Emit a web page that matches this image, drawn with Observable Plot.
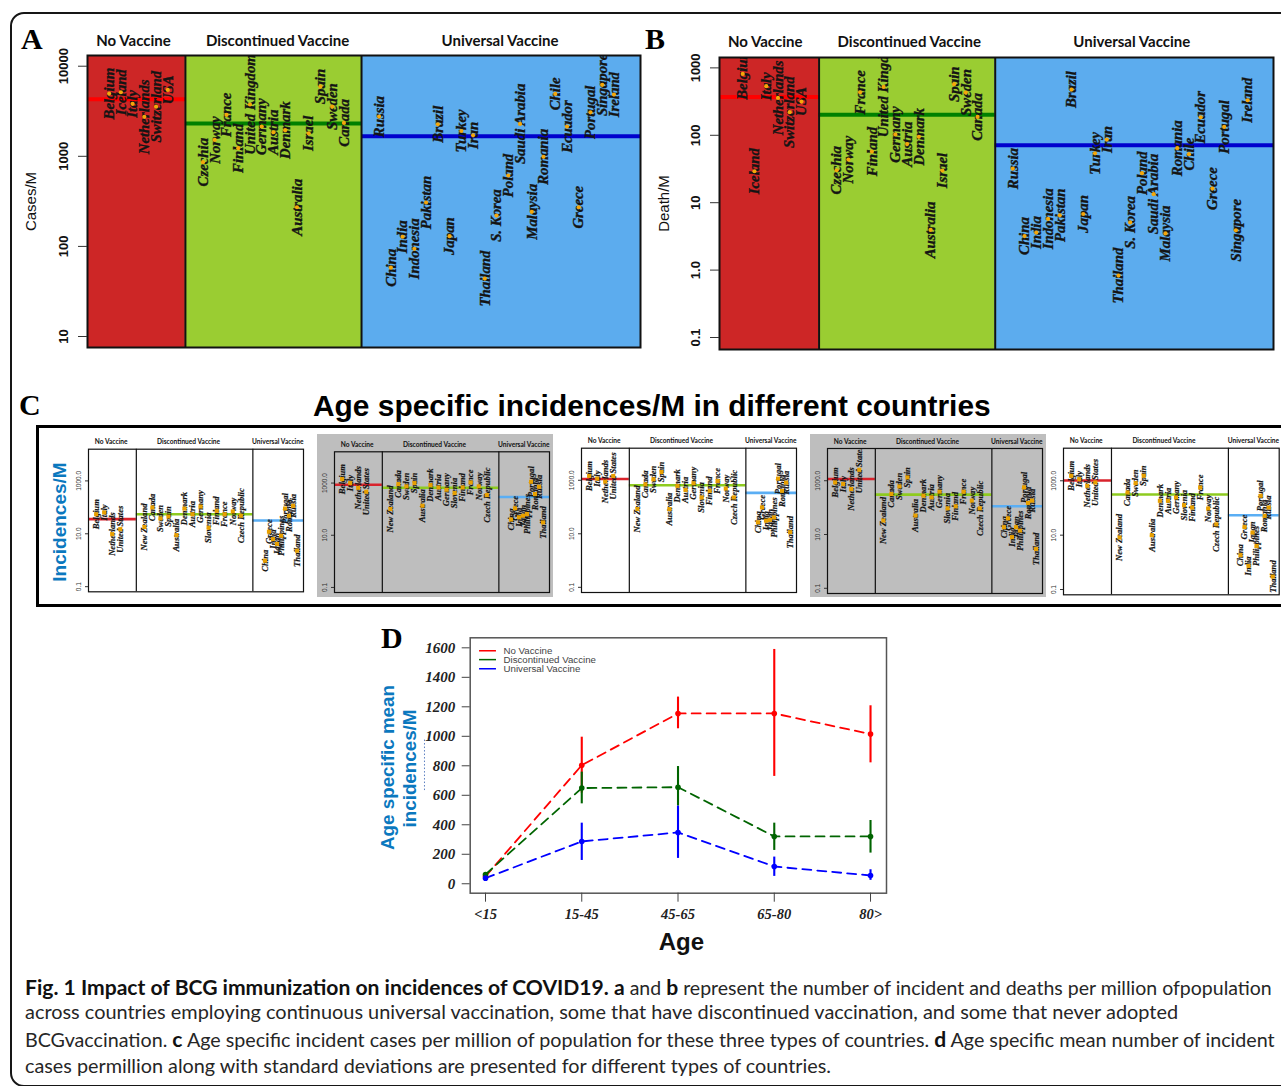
<!DOCTYPE html>
<html><head><meta charset="utf-8">
<script src="https://cdn.jsdelivr.net/npm/d3@7"></script>
<script src="https://cdn.jsdelivr.net/npm/@observablehq/plot@0.6"></script>
<style>
html,body{margin:0;padding:0;background:#fff}
#page{position:relative;width:1281px;height:1086px;overflow:hidden;background:#fff}
.card{position:absolute;left:10px;top:12px;width:1400px;height:1071px;border:2.5px solid #161616;border-radius:14px;box-sizing:content-box}
.cbox{position:absolute;left:36px;top:425px;width:1400px;height:176px;border:3.5px solid #000}
.letter{position:absolute;font:bold 30px "Liberation Serif",serif;color:#000;line-height:1}
.title{position:absolute;left:313px;top:388.5px;font:bold 29.9px "Liberation Sans",sans-serif;color:#000;white-space:nowrap;line-height:1.15}
.side{position:absolute;font:bold 19px "Liberation Sans",sans-serif;color:#0b78be;white-space:nowrap;transform:translate(-50%,-50%) rotate(-90deg)}
.cap{position:absolute;left:25px;font:19.8px "Lato",sans-serif;color:#262626;white-space:nowrap;line-height:1}
.cap b{font-weight:700;font-size:21.1px;color:#111}
</style></head><body><div id="page"></div>
<script>
// ---------- Panels A and B ----------
const vaccineGroups = ["No Vaccine", "Discontinued Vaccine", "Universal Vaccine"];
const abCountries = ["Belgium","Iceland","Italy","Netherlands","Switzerland","USA",
  "Czechia","Norway","France","Finland","United Kingdom","Germany","Austria","Denmark","Australia","Israel","Spain","Sweden","Canada",
  "Russia","China","India","Indonesia","Pakistan","Brazil","Japan","Turkey","Iran","Thailand","S. Korea","Poland","Saudi Arabia","Malaysia","Romania","Chile","Ecuador","Greece","Portugal","Singapore","Ireland"];
const abPositions = [1,2,3,4,5,6, 9,10,11,12,13,14,15,16,17,18,19,20,21,
  24,25,26,27,28,29,30,31,32,33,34,35,36,37,38,39,40,41,42,43,44];
const casesPerM = [4970,5140,3820,2740,3560,5460,
  860,1520,2880,1230,3760,2140,1850,1950,272,1800,5950,3560,2350,
  2760,58,128,94,307,2270,130,1910,1710,44,220,612,2290,242,986,4930,2140,272,3080,6210,4840];
const deathsPerM = [815,29.3,535,359,220,316,
  30.3,43.6,435,57.4,522,103,74,95,3.95,30,573,431,187,
  32,3.2,3.6,5.75,6.5,477,6.8,54,86.5,0.83,5.1,27.4,13.4,3.5,64.3,52.5,185,16.2,133,3.9,331];
const casesMeans = [4300, 2310, 1670];
const deathsMeans = [371, 201, 71];
const casesTicks = [10, 100, 1000, 10000];
const deathsTicks = [0.1, 1, 10, 100, 1000];
const deathsTickLabels = ["0.1","1.0","10","100","1000"];
const abBreaks = [7.5, 22.5];
const abTitleX = [3.08, 15.35, 34.3];

// ---------- Panel C ----------
const cCountries = ["Belgium","Italy","Netherlands","United States",
  "New Zealand","Canada","Sweden","Spain","Australia","Denmark","Austria","Germany","Slovenia","Finland","France","Norway","Czech Republic",
  "China","Greece","India","Japan","Philippines","Portugal","Romania","Russia","Thailand"];
const cPositions = [1,2,3,4, 7,8,9,10,11,12,13,14,15,16,17,18,19, 22,22.5,23,23.5,24,24.5,25,25.5,26];
const incidence1 = [55,64,9.7,15, 18,99,38,45,8.9,90,55,107,17,74,55,70,48, 0.96,12,6.3,4.1,8.4,90,48,114,2.3];
const incidence2 = [1420,1000,660,466, 101,915,748,1000,136,838,682,556,415,682,1060,748,347, 40,108,49,56,65,1125,380,724,31];
const incidence3 = [1447,1152,892,1447, 84,708,1089,2033,84,617,437,774,228,403,945,489,228, 27,97,31,33,41,1152,403,820,11.5];
const incidence4 = [867,753,491,2551, 33,321,615,1329,51,278,242,392,94,112,392,182,94, 18.7,40,8,18.7,14,566,149,182,2.9];
const incidence5 = [1528,1152,655,868, 8.2,372,820,1528,10,184,184,244,127,104,569,96,25, 1.84,20,0.74,12.5,4,280,51,104,0.3];
const means1 = [36, 55, 32];
const means2 = [863, 664, 292];
const means3 = [1120, 653, 339];
const means4 = [1153, 303, 112];
const means5 = [1029, 314, 54];
const cTicks = [0.1, 10, 1000];
const cTickLabels = ["0.1","10.0","1000.0"];
const cBreaks = [6, 20.5];
const cTitleX = [2.87, 12.5, 23.6];

// ---------- Panel D ----------
const ages = ["<15","15-45","45-65","65-80","80>"];
const meanNo = [50, 804, 1155, 1155, 1015];
const lowNo = [40, 615, 1051, 728, 820];
const highNo = [60, 994, 1266, 1589, 1207];
const meanDisc = [63, 649, 655, 321, 321];
const lowDisc = [53, 542, 527, 226, 208];
const highDisc = [73, 757, 795, 411, 429];
const meanUniv = [38, 287, 348, 117, 56];
const lowUniv = [28, 158, 172, 50, 23];
const highUniv = [48, 411, 527, 181, 95];
const dTicks = [0,200,400,600,800,1000,1200,1400,1600];

// ---------- colours ----------
const fills = ["#cd2626","#9acd32","#5cacee"];
const abLines = ["#ff0000","#008000","#0000cd"];
const cLines = ["#d9232c","#8ecb1f","#5aaef4"];
const dLines = ["#ff0000","#006400","#0000ff"];
const dotColor = "#f5a70a";

const page = document.getElementById("page");
function div(cls, html, style){const d=document.createElement("div");d.className=cls;d.innerHTML=html;if(style)d.style.cssText=style;page.appendChild(d);return d;}
function place(svg,left,top,bg){svg.style.position="absolute";svg.style.left=left+"px";svg.style.top=top+"px";svg.style.background=bg||"transparent";svg.style.maxWidth="none";page.appendChild(svg);}

div("card","");div("cbox","");

const SERIF = "Liberation Serif", SANS = "Liberation Sans", HEAD = "Lato";

function rankedPanel(o){
  const rows = o.names.map((name,i)=>({name,x:o.xs[i],v:o.values[i]}));
  const [xLo,xHi] = o.xDomain;
  const edges = [xLo,...o.breaks,xHi];
  const groups = vaccineGroups.map((g,i)=>({g,x1:edges[i],x2:edges[i+1],tx:o.titleX[i],mean:o.means[i],fill:(o.fills||[])[i]||"none",line:o.lines[i]}));
  const marks = [];
  if(o.fills) marks.push(Plot.rect(groups,{x1:"x1",x2:"x2",fill:"fill"}));
  marks.push(Plot.ruleY(groups,{y:"mean",x1:"x1",x2:"x2",stroke:"line",strokeWidth:o.lineWidth}));
  marks.push(Plot.text(rows,{x:"x",y:"v",text:"name",rotate:-90,fill:"#141414",stroke:"#141414",strokeWidth:o.labelStroke,fontFamily:SERIF,fontWeight:"bold",fontStyle:"italic",fontSize:o.labelSize,clip:true}));
  marks.push(Plot.dot(rows,{x:"x",y:"v",fill:o.dotFill||dotColor,r:o.dotR,symbol:o.dotSymbol}));
  marks.push(Plot.ruleX(o.breaks,{stroke:"#111",strokeWidth:o.frameWidth}));
  marks.push(Plot.frame({stroke:"#111",strokeWidth:o.frameWidth}));
  marks.push(Plot.text(groups,{x:"tx",text:"g",frameAnchor:"top",lineAnchor:"middle",textAnchor:"middle",dx:o.titleDx||0,dy:o.titleDy,fill:"#111",fontFamily:HEAD,fontWeight:"bold",fontSize:o.titleSize}));
  marks.push(Plot.axisY({ticks:o.ticks,tickFormat:o.tickFormat,tickRotate:-90,tickSize:o.tickSize,tickPadding:o.tickPadding,label:null,fontSize:o.tickFont,fontWeight:o.tickWeight,fontFamily:SANS,fill:o.tickFill||"#111",stroke:"#333"}));
  if(o.yLabel) marks.push(Plot.text([o.yLabel],{frameAnchor:"left",textAnchor:"middle",lineAnchor:"middle",rotate:-90,dx:o.yLabelDx,fontFamily:SANS,fontSize:15,fill:"#111"}));
  const svg = Plot.plot({width:o.width,height:o.height,marginLeft:o.ml,marginRight:o.mr,marginTop:o.mt,marginBottom:o.mb,
    x:{type:"linear",domain:o.xDomain,axis:null},y:{type:"log",domain:o.yDomain,axis:null},marks});
  place(svg,o.left,o.top,o.bg);
}

const abShared = {names:abCountries,xs:abPositions,breaks:abBreaks,titleX:abTitleX,fills,lines:abLines,lineWidth:4,dotR:2.1,labelSize:14.8,labelStroke:0.35,frameWidth:2,titleDy:-14,titleSize:15,tickSize:9,tickPadding:11,tickFont:13,tickWeight:"bold"};
rankedPanel({...abShared,values:casesPerM,means:casesMeans,xDomain:[-0.84,46.26],yDomain:[7.55,13150],ticks:casesTicks,tickFormat:d=>String(d),
  yLabel:"Cases/M",yLabelDx:-56,left:20,top:28,width:625,height:322,ml:67,mr:5,mt:27,mb:3});
rankedPanel({...abShared,values:deathsPerM,means:deathsMeans,xDomain:[-0.98,46.2],yDomain:[0.0664,1426],ticks:deathsTicks,tickFormat:d=>deathsTickLabels[deathsTicks.indexOf(d)],
  yLabel:"Death/M",yLabelDx:-55,left:650,top:28,width:631,height:324,ml:69,mr:8,mt:29,mb:3,titleDy:-15,titleDx:-2});

const cShared = {names:cCountries,xs:cPositions,breaks:cBreaks,titleX:cTitleX,lines:cLines,lineWidth:2.6,dotR:2.3,dotFill:"#e8a000",dotSymbol:"square",labelSize:8.6,labelStroke:0.2,frameWidth:1.2,titleDy:-7,titleSize:6.6,
  xDomain:[0.05,26.8],yDomain:[0.064,15800],ticks:cTicks,tickFormat:d=>cTickLabels[cTicks.indexOf(d)],tickSize:3,tickPadding:5,tickFont:6.5,tickFill:"#333",width:236};
rankedPanel({...cShared,values:incidence1,means:means1,left:71.3,top:433,height:163,ml:17,mr:4,mt:15.7,mb:4.7});
rankedPanel({...cShared,values:incidence2,means:means2,left:317.3,top:434,height:163,ml:17,mr:4,mt:17.3,mb:5,bg:"#bebebe"});
rankedPanel({...cShared,values:incidence3,means:means3,left:563.7,top:433,height:164,ml:17,mr:4,mt:14.7,mb:5});
rankedPanel({...cShared,values:incidence4,means:means4,left:810,top:434,height:163,ml:17,mr:4,mt:14,mb:4,bg:"#bebebe"});
rankedPanel({...cShared,values:incidence5,means:means5,left:1045.7,top:433,height:165,ml:17,mr:3.3,mt:14.7,mb:3.7});

div("letter","A","left:21px;top:24px");
div("letter","B","left:645px;top:24px");
div("letter","C","left:19px;top:390px");
div("letter","D","left:381px;top:623px");
div("title","Age specific incidences/M in different countries");
div("side","Incidences/M","left:60px;top:522px");

// Panel D
const dSeries = [["No Vaccine",meanNo,lowNo,highNo],["Discontinued Vaccine",meanDisc,lowDisc,highDisc],["Universal Vaccine",meanUniv,lowUniv,highUniv]];
const dRows = dSeries.flatMap(([group,m,lo,hi])=>ages.map((a,i)=>({group,i,v:m[i],lo:lo[i],hi:hi[i]})));
const legendY = [1580,1520,1458];
const legendRows = vaccineGroups.map((g,i)=>({g,y:legendY[i]}));
const dSvg = Plot.plot({width:530,height:330,marginLeft:99.7,marginRight:14,marginTop:7.3,marginBottom:67.3,
  x:{type:"linear",domain:[-0.159,4.166],axis:null},y:{domain:[-64,1668],axis:null},
  color:{domain:vaccineGroups,range:dLines},
  marks:[
    Plot.ruleX(dRows,{x:"i",y1:"lo",y2:"hi",stroke:"group",strokeWidth:2.1}),
    Plot.line(dRows,{x:"i",y:"v",z:"group",stroke:"group",strokeWidth:1.8,strokeDasharray:"9,6"}),
    Plot.dot(dRows,{x:"i",y:"v",fill:"group",r:2.8}),
    Plot.ruleY(legendRows,{y:"y",x1:-0.062,x2:0.114,stroke:"g",strokeWidth:1.5}),
    Plot.text(legendRows,{x:0.187,y:"y",text:"g",textAnchor:"start",fontFamily:SANS,fontSize:9.7,fill:"#444"}),
    Plot.ruleX([-0.634],{y1:632,y2:985,stroke:"#5b7fc0",strokeWidth:1,strokeDasharray:"1.5,2"}),
    Plot.frame({stroke:"#555",strokeWidth:1.5}),
    Plot.axisX({ticks:[0,1,2,3,4],tickFormat:d=>ages[d],tickSize:9,tickPadding:7,label:null,fontFamily:SERIF,fontWeight:"bold",fontStyle:"italic",fontSize:14.5,fill:"#222",stroke:"#444"}),
    Plot.axisY({ticks:dTicks,tickSize:8,tickPadding:7,tickFormat:d=>String(d),label:null,fontFamily:SERIF,fontWeight:"bold",fontStyle:"italic",fontSize:15,fill:"#222",stroke:"#444"}),
    Plot.text(["Age"],{frameAnchor:"bottom",textAnchor:"middle",lineAnchor:"middle",dx:3,dy:49,fontFamily:SANS,fontWeight:"bold",fontSize:24,fill:"#111"}),
    Plot.text(["Age specific mean"],{frameAnchor:"left",textAnchor:"middle",lineAnchor:"middle",rotate:-90,dx:-82,dy:2,fontFamily:SANS,fontWeight:"bold",fontSize:18.8,fill:"#0b78be"}),
    Plot.text(["incidences/M"],{frameAnchor:"left",textAnchor:"middle",lineAnchor:"middle",rotate:-90,dx:-60,dy:3,fontFamily:SANS,fontWeight:"bold",fontSize:18.8,fill:"#0b78be"})
  ]});
place(dSvg,370,630);

// Caption
const capLines = [
 "<b>Fig. 1 Impact of BCG immunization on incidences of COVID19. a</b> and <b>b</b> represent the number of incident and deaths per million ofpopulation",
 "across countries employing continuous universal vaccination, some that have discontinued vaccination, and some that never adopted",
 "BCGvaccination. <b>c</b> Age specific incident cases per million of population for these three types of countries. <b>d</b> Age specific mean number of incident",
 "cases permillion along with standard deviations are presented for different types of countries."];
const capTops = [975.5,1002,1028,1056];
const capSizes = [19.5,19.9,19.7,19.8];
capLines.forEach((t,i)=>div("cap",t,"top:"+capTops[i]+"px;font-size:"+capSizes[i]+"px"));
</script></body></html>
